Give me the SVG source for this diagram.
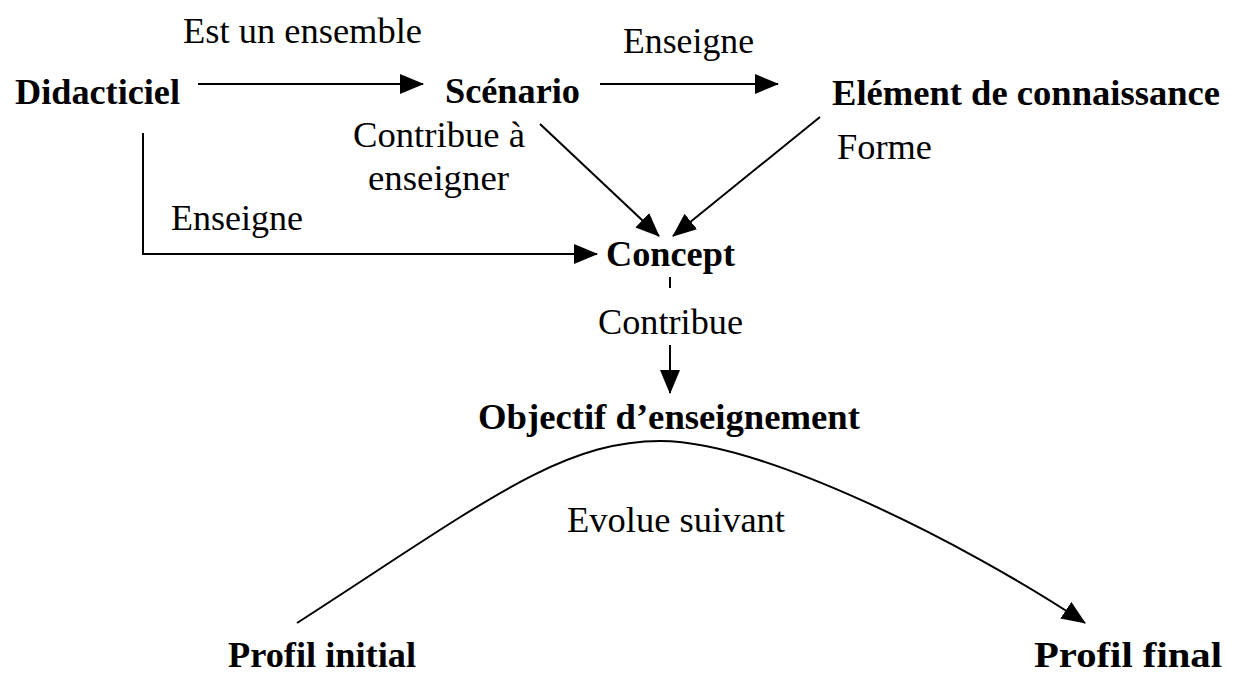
<svg xmlns="http://www.w3.org/2000/svg" width="1235" height="684" viewBox="0 0 1235 684">
<style>
text{font-family:"Liberation Serif","Times New Roman",serif;font-size:36px;fill:#000}
.n{font-weight:bold}
.c{fill:none;stroke:#000;stroke-width:2}
</style>
<defs>
<marker id="ahb" viewBox="0 0 24 20" refX="23" refY="10" markerWidth="24" markerHeight="20" orient="auto" markerUnits="userSpaceOnUse">
<path d="M0,0 L24,10 L0,20 Z" fill="#000"/>
</marker>
</defs>
<rect width="1235" height="684" fill="#fff"/>
<g id="connectors">
<line class="c" x1="198" y1="84" x2="423" y2="84" marker-end="url(#ahb)"/>
<line class="c" x1="600" y1="84" x2="778" y2="84" marker-end="url(#ahb)"/>
<line class="c" x1="540" y1="124" x2="659" y2="236" marker-end="url(#ahb)"/>
<line class="c" x1="820" y1="117" x2="673" y2="236" marker-end="url(#ahb)"/>
<polyline class="c" points="143,133 143,254 597,254" marker-end="url(#ahb)"/>
<line class="c" x1="670" y1="277" x2="670" y2="288"/>
<line class="c" x1="670" y1="345" x2="670" y2="393" marker-end="url(#ahb)"/>
<path class="c" d="M297,623 C480,505 560,441 660,441 C760,441 960,540 1085,623" marker-end="url(#ahb)"/>
<text x="183" y="43" textLength="239" lengthAdjust="spacingAndGlyphs">Est un ensemble</text>
<text x="623" y="53" textLength="131" lengthAdjust="spacingAndGlyphs">Enseigne</text>
<text x="353" y="147" textLength="172" lengthAdjust="spacingAndGlyphs">Contribue à</text>
<text x="368" y="190" textLength="141" lengthAdjust="spacingAndGlyphs">enseigner</text>
<text x="837" y="159" textLength="95" lengthAdjust="spacingAndGlyphs">Forme</text>
<text x="171" y="230" textLength="132" lengthAdjust="spacingAndGlyphs">Enseigne</text>
<text x="598" y="334" textLength="145" lengthAdjust="spacingAndGlyphs">Contribue</text>
<text x="567" y="532" textLength="218" lengthAdjust="spacingAndGlyphs">Evolue suivant</text>
</g>
<g id="didacticiel"><text class="n" x="15" y="104" textLength="165" lengthAdjust="spacingAndGlyphs">Didacticiel</text></g>
<g id="scenario"><text class="n" x="445" y="103" textLength="135" lengthAdjust="spacingAndGlyphs">Scénario</text></g>
<g id="element"><text class="n" x="832" y="105" textLength="388" lengthAdjust="spacingAndGlyphs">Elément de connaissance</text></g>
<g id="concept"><text class="n" x="606" y="266" textLength="129" lengthAdjust="spacingAndGlyphs">Concept</text></g>
<g id="objectif"><text class="n" x="478" y="429" textLength="382" lengthAdjust="spacingAndGlyphs">Objectif d’enseignement</text></g>
<g id="profil-initial"><text class="n" x="228" y="667" textLength="188" lengthAdjust="spacingAndGlyphs">Profil initial</text></g>
<g id="profil-final"><text class="n" x="1034" y="667" textLength="188" lengthAdjust="spacingAndGlyphs">Profil final</text></g>
</svg>
